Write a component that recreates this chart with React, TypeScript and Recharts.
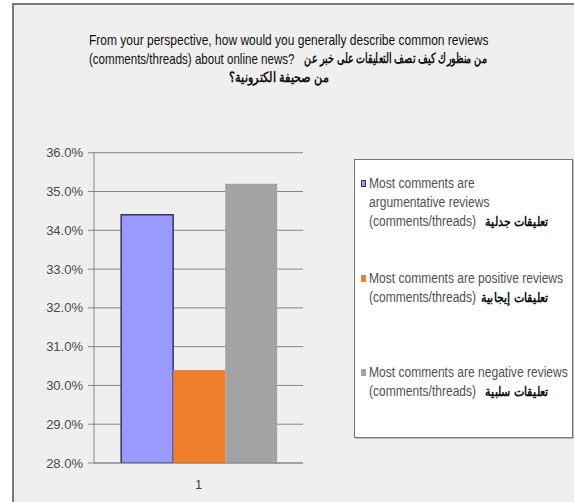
import { BarChart, Bar, XAxis, YAxis, CartesianGrid } from 'recharts';

const categories = ['1'];
const seriesNames = [
  'Most comments are argumentative reviews',
  'Most comments are positive reviews',
  'Most comments are negative reviews',
];
const seriesArabic = ['تعليقات جدلية', 'تعليقات إيجابية', 'تعليقات سلبية'];
const seriesValues = [34.4, 30.4, 35.2];
const seriesColors = ['#9999ff', '#f07f2c', '#a3a3a3'];
const yTicks = [28, 29, 30, 31, 32, 33, 34, 35, 36];

const titleEnglish = [
  'From your perspective, how would you generally describe common reviews',
  '(comments/threads) about online news?',
];
const titleArabic = ['من منظورك كيف تصف التعليقات على خبر عن', 'من صحيفة الكترونية؟'];

const data = categories.map((name) => {
  const row: Record<string, string | number> = { name };
  seriesValues.forEach((v, i) => { row[`s${i}`] = v; });
  return row;
});

const FONT = "'Liberation Sans', Arial, sans-serif";
const GRID = '#868686';

// legend text lines per item, as laid out in the reference box
const legendLines = [
  ['Most comments are', 'argumentative reviews', '(comments/threads)'],
  ['Most comments are positive reviews', '(comments/threads)'],
  ['Most comments are negative reviews', '(comments/threads)'],
];
const legendTops = [183, 278, 372];

const line = (top: number): React.CSSProperties => ({
  position: 'absolute', top, whiteSpace: 'nowrap', fontSize: 15, lineHeight: '19px', color: '#111',
});

export default function App() {
  return (
    <div style={{ position: 'absolute', left: 0, top: 0, width: 574, height: 502, background: '#fff', overflow: 'hidden', fontFamily: FONT }}>
      <div style={{
        position: 'absolute', left: 12, top: 3, width: 570, height: 510,
        background: '#efefef', borderLeft: '2px solid #7a7a7a', borderTop: '2px solid #7a7a7a',
      }} />

      {/* title */}
      <span style={{ ...line(30), left: 89, transform: 'scaleX(0.8)', transformOrigin: '0 0' }}>{titleEnglish[0]}</span>
      <span style={{ ...line(49), left: 89, transform: 'scaleX(0.77)', transformOrigin: '0 0' }}>{titleEnglish[1]}</span>
      <span dir="rtl" style={{ ...line(49), right: 574 - 487, fontWeight: 'bold', fontSize: 14, transform: 'scaleX(0.68)', transformOrigin: '100% 0' }}>{titleArabic[0]}</span>
      <div style={{ ...line(68), left: 179, width: 200, textAlign: 'center', fontWeight: 'bold', fontSize: 14 }}>
        <span dir="rtl" style={{ display: 'inline-block', transform: 'scaleX(0.8)' }}>{titleArabic[1]}</span>
      </div>

      <div style={{ position: 'absolute', left: 0, top: 0 }}>
        <BarChart width={574} height={502} data={data}
          margin={{ top: 152.7, right: 271, bottom: 0, left: 0 }}
          barCategoryGap="13%" barGap={0}>
          <CartesianGrid vertical={false} stroke={GRID} strokeWidth={1} fill="none" />
          <XAxis dataKey="name" height={39} tickLine={false} tickSize={0} tickMargin={17}
            axisLine={{ stroke: GRID }} tick={{ fontSize: 13, fill: '#444', fontFamily: FONT }} />
          <YAxis width={94} domain={[28, 36]} ticks={yTicks} tickSize={6} tickMargin={5}
            tickFormatter={(v: number) => `${v.toFixed(1)}%`}
            axisLine={{ stroke: GRID }} tickLine={{ stroke: GRID }}
            tick={{ fontSize: 13, fill: '#4a4a4a', fontFamily: FONT }} allowDataOverflow />
          {seriesValues.map((_, i) => (
            <Bar key={i} dataKey={`s${i}`} name={seriesNames[i]} fill={seriesColors[i]}
              stroke={i === 0 ? '#33336e' : 'none'} strokeWidth={i === 0 ? 1.5 : 0}
              isAnimationActive={false} />
          ))}
        </BarChart>
      </div>

      <div style={{
        position: 'absolute', left: 354, top: 159, width: 217, height: 277,
        background: '#fff', border: '1px solid #777', boxShadow: '1px 1px 0 #bbb',
      }}>
        {legendLines.map((lines, i) => (
          <div key={i} style={{ position: 'absolute', left: 6, right: 0, top: legendTops[i] - 159 - 10, fontSize: 14, lineHeight: '19px', color: '#505050' }}>
            <span style={{
              position: 'absolute', left: 0, top: 6, width: 5, height: 7, background: seriesColors[i],
              border: i === 0 ? '1px solid #33336e' : 'none', boxSizing: 'border-box',
            }} />
            {lines.map((l, j) => (
              <div key={j} style={{ position: 'relative', height: 19 }}>
                <span style={{
                  position: 'absolute', left: 8, whiteSpace: 'nowrap',
                  transform: 'scaleX(0.86)', transformOrigin: '0 0',
                }}>{l}</span>
                {j === lines.length - 1 && (
                  <span dir="rtl" style={{
                    position: 'absolute', right: 23, whiteSpace: 'nowrap', color: '#111', fontWeight: 'bold', fontSize: 13,
                    transform: 'scaleX(0.85)', transformOrigin: '100% 0',
                  }}>{seriesArabic[i]}</span>
                )}
              </div>
            ))}
          </div>
        ))}
      </div>
    </div>
  );
}
